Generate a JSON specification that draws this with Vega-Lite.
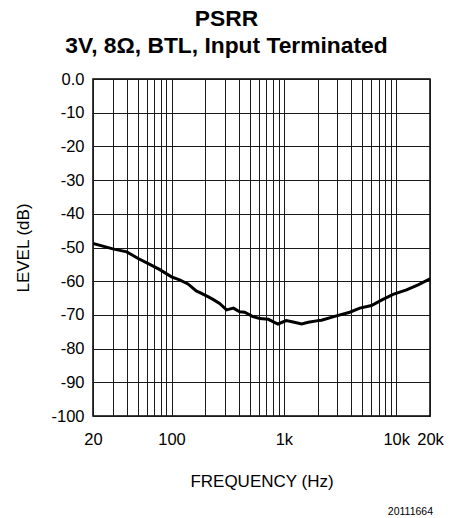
{
  "$schema": "https://vega.github.io/schema/vega-lite/v6.json",
  "autosize": "none",
  "width": 337,
  "height": 337,
  "padding": {"left": 93, "top": 79, "right": 27, "bottom": 102},
  "background": "white",
  "config": {
    "font": "Liberation Sans",
    "view": {"stroke": "#000000", "strokeWidth": 1.5},
    "axis": {"gridColor": "#1a1a1a", "gridWidth": 1, "gridOpacity": 1, "domain": false, "ticks": false, "labelColor": "#000000", "titleColor": "#000000", "labelFont": "Liberation Sans", "titleFont": "Liberation Sans", "titleFontWeight": "normal", "labelOverlap": false, "labelSeparation": 0},
    "axisY": {"labelOverlap": false}
  },
  "title": {
    "text": ["PSRR", "3V, 8Ω, BTL, Input Terminated"],
    "fontSize": 22.8,
    "fontWeight": "bold",
    "font": "Liberation Sans",
    "color": "#000000",
    "lineHeight": 27,
    "anchor": "middle",
    "dx": -35,
    "baseline": "bottom",
    "offset": -10
  },
  "encoding": {
    "x": {
      "field": "f", "type": "quantitative",
      "scale": {"type": "log", "domain": [20, 20000], "nice": false},
      "axis": {
        "title": "FREQUENCY (Hz)",
        "titleFontSize": 17,
        "titlePadding": 26,
        "labelFontSize": 16.5,
        "labelPadding": 15,
        "values": [20, 30, 40, 50, 60, 70, 80, 90, 100, 200, 300, 400, 500, 600, 700, 800, 900, 1000, 2000, 3000, 4000, 5000, 6000, 7000, 8000, 9000, 10000, 20000],
        "labelExpr": "datum.value == 20 ? '20' : datum.value == 100 ? '100' : datum.value == 1000 ? '1k' : datum.value == 10000 ? '10k' : datum.value == 20000 ? '20k' : ''",
        "labelOverlap": false,
        "labelFlush": false
      }
    },
    "y": {
      "field": "db", "type": "quantitative",
      "scale": {"domain": [-100, 0], "nice": false},
      "axis": {
        "title": "LEVEL (dB)",
        "titleFontSize": 17,
        "titlePadding": 18,
        "labelFontSize": 16.5,
        "labelPadding": 9,
        "values": [-100, -90, -80, -70, -60, -50, -40, -30, -20, -10, 0],
        "labelExpr": "datum.value == 0 ? '0.0' : '' + datum.value",
        "labelOverlap": false,
        "labelFlush": false
      }
    }
  },
  "layer": [
    {
      "data": {"values": [
        {"f": 20, "db": -48.8},
        {"f": 30, "db": -50.4},
        {"f": 40, "db": -51.3},
        {"f": 50, "db": -53.2},
        {"f": 64, "db": -55.0},
        {"f": 78, "db": -56.5},
        {"f": 100, "db": -58.7},
        {"f": 118, "db": -59.6},
        {"f": 140, "db": -60.8},
        {"f": 166, "db": -62.9},
        {"f": 179, "db": -63.4},
        {"f": 211, "db": -64.6},
        {"f": 234, "db": -65.4},
        {"f": 268, "db": -66.6},
        {"f": 309, "db": -68.5},
        {"f": 356, "db": -68.0},
        {"f": 404, "db": -69.1},
        {"f": 448, "db": -69.2},
        {"f": 530, "db": -70.5},
        {"f": 612, "db": -71.1},
        {"f": 727, "db": -71.3},
        {"f": 886, "db": -72.7},
        {"f": 1050, "db": -71.7},
        {"f": 1210, "db": -72.1},
        {"f": 1440, "db": -72.7},
        {"f": 1650, "db": -72.2},
        {"f": 2016, "db": -71.7},
        {"f": 2163, "db": -71.6},
        {"f": 2938, "db": -70.3},
        {"f": 3865, "db": -69.2},
        {"f": 4743, "db": -68.0},
        {"f": 6025, "db": -67.2},
        {"f": 7400, "db": -65.6},
        {"f": 9380, "db": -63.9},
        {"f": 12360, "db": -62.6},
        {"f": 15660, "db": -61.1},
        {"f": 20000, "db": -59.3}
      ]},
      "mark": {"type": "line", "color": "#000000", "strokeWidth": 3, "clip": true}
    },
    {
      "data": {"values": [{"label": "20111664", "f": 20000, "db": -129.5}]},
      "mark": {"type": "text", "align": "right", "baseline": "alphabetic", "fontSize": 10.5, "dx": 3, "color": "#000000", "font": "Liberation Sans"},
      "encoding": {
        "text": {"field": "label"}
      }
    }
  ]
}
